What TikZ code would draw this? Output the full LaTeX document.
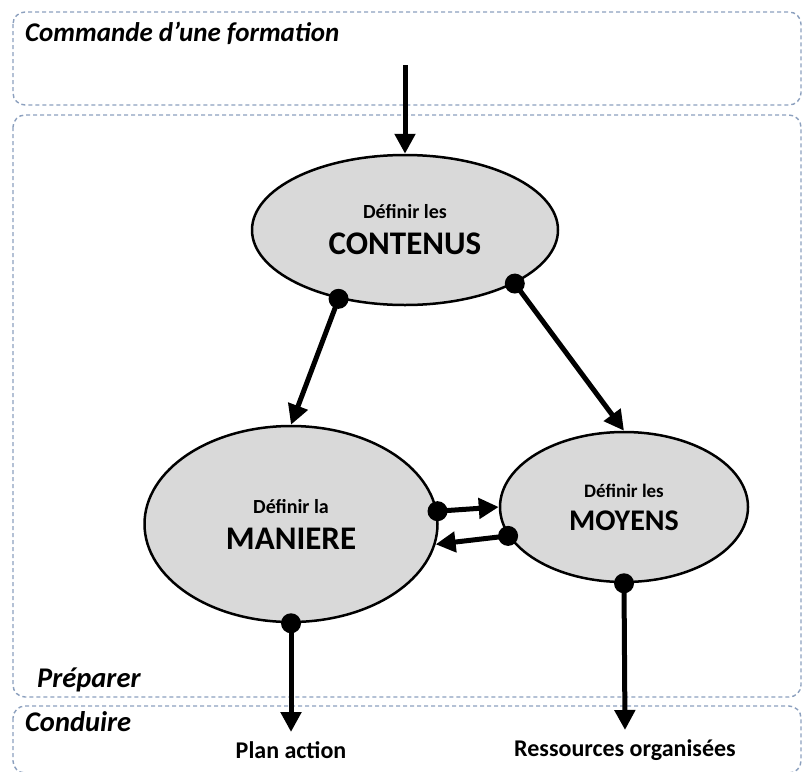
\documentclass[tikz,border=0pt]{standalone}
\usepackage{fontspec}
\setmainfont{Carlito}
\usetikzlibrary{shapes.geometric,arrows.meta}

\definecolor{zoneblue}{RGB}{140,160,190}
\definecolor{taskgray}{RGB}{217,217,217}

\tikzset{
  zone/.style={draw=zoneblue, dash pattern=on 4pt off 3pt, line width=1.4pt, rounded corners=12pt},
  zonelabel/.style={anchor=west, inner sep=0pt, font=\bfseries\itshape\fontsize{27}{31}\selectfont},
  task/.style={ellipse, draw, line width=2.5pt, fill=taskgray, inner sep=0pt, align=center,
    font=\bfseries\fontsize{33}{36}\selectfont},
  dot/.style={circle, fill=black, inner sep=0pt, minimum size=20pt},
  flow/.style={line width=5pt, -{Triangle[length=20pt,width=20pt]}},
  result/.style={font=\bfseries\fontsize{24}{28}\selectfont}
}

\begin{document}
\begin{tikzpicture}[x=1pt, y=1pt]
\useasboundingbox (0,0) rectangle (802,-771);

%% zones
\draw[zone] (13,-12) rectangle (801,-105);
\draw[zone] (13,-115) rectangle (801,-697);
\draw[zone] (13,-706) rectangle (801,-773);
\node[zonelabel](commande) at (25,-33){Commande d’une formation};
\node[zonelabel, font=\bfseries\itshape\fontsize{28.5}{32}\selectfont](preparer) at (37,-680){Préparer};
\node[zonelabel, font=\bfseries\itshape\fontsize{28.5}{32}\selectfont](conduire) at (25,-722){Conduire};

%% tasks
\node[task, minimum width=306pt, minimum height=150pt](contenus) at (405,-230)
  {{\fontsize{20}{22}\selectfont Définir les}\\CONTENUS};
\node[task, minimum width=293pt, minimum height=196pt](maniere) at (291,-524)
  {{\fontsize{20}{22}\selectfont Définir la}\\MANIERE};
\node[task, minimum width=248pt, minimum height=150pt, font=\bfseries\fontsize{30}{33}\selectfont](moyens) at (624,-507)
  {{\fontsize{19}{21}\selectfont Définir les}\\MOYENS};

%% dots on the borders
\node[dot](contenus_l) at (contenus.226){};
\node[dot](contenus_r) at (contenus.334){};
\node[dot](maniere_r) at (maniere.5){};
\node[dot](maniere_s) at (maniere.south){};
\node[dot](moyens_l) at (moyens.194){};
\node[dot](moyens_s) at (moyens.south){};

%% results
\coordinate (start) at (405,-65);
\coordinate (plan_end) at (291,-732);
\coordinate (ress_end) at (625,-730);
\node[result](plan) at (291,-750){Plan action};
\node[result](ressources) at (625,-750){Ressources organisées};

%% flows
\draw[flow] (start) -- (contenus.north);
\draw[flow] (contenus_l.center) -- (maniere.north);
\draw[flow] (contenus_r.center) -- (moyens.north);
\draw[flow] (maniere_r.center) -- (moyens.west);
\draw[flow] (moyens_l.center) -- (maniere.352);
\draw[flow] (maniere_s.center) -- (plan_end);
\draw[flow] (moyens_s.center) -- (ress_end);

\end{tikzpicture}
\end{document}
